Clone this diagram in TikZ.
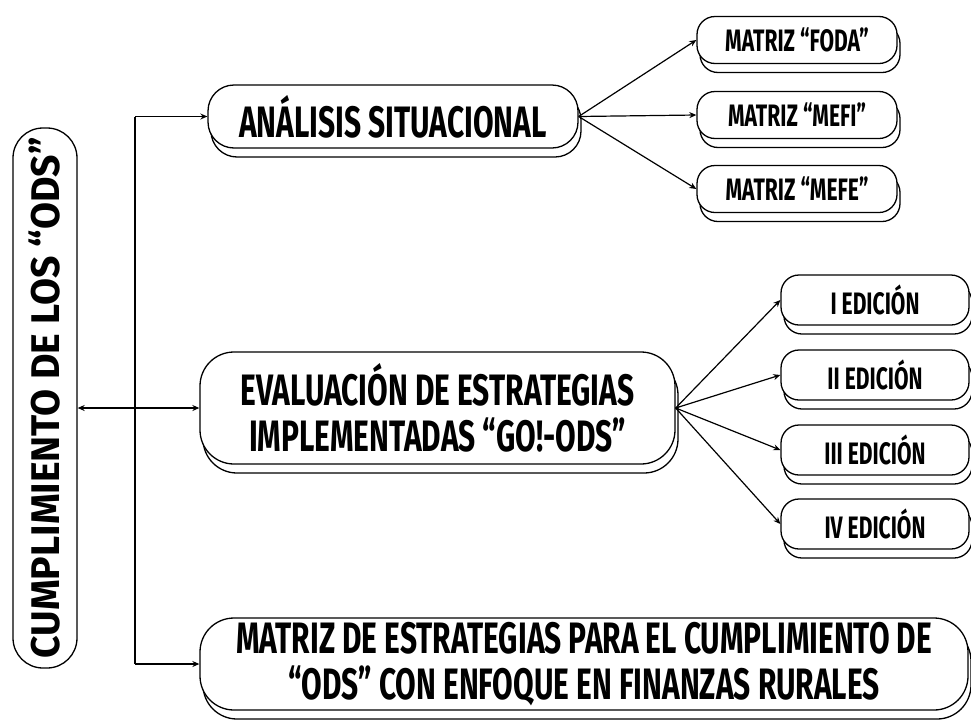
\documentclass[tikz,border=0pt]{standalone}
\usepackage{fontspec}
\setmainfont{Fira Sans}[FakeStretch=0.68]
\newfontfamily\widefont{Fira Sans}[FakeStretch=0.98]
\usetikzlibrary{arrows.meta,shadows}
\begin{document}
\begin{tikzpicture}[x=1pt,y=-1pt,
  box/.style={draw=black, line width=1.3pt, fill=white, align=center, inner sep=0pt,
    font=\bfseries,
    copy shadow={shadow xshift=3pt, shadow yshift=-9pt, draw=black, fill=white, line width=1.3pt}},
  bigbox/.style={box, rounded corners=30pt, font=\fontsize{44}{46}\bfseries\selectfont},
  smallbox/.style={box, rounded corners=18pt, minimum height=47pt, font=\fontsize{31}{34}\bfseries\selectfont},
  arr/.style={line width=1.2pt, -{Stealth[length=7pt,width=6pt]}},
  darr/.style={line width=1.2pt, {Stealth[length=7pt,width=6pt]}-{Stealth[length=7pt,width=6pt]}},
  ln/.style={line width=1.2pt}
]
\useasboundingbox (0,0) rectangle (971,726);
% left box
\node[draw=black, line width=1.3pt, rounded corners=30pt, minimum width=64pt, minimum height=540pt, inner sep=0pt] (ods) at (45,398) {};
\node[rotate=90, font=\widefont\fontsize{40}{42}\bfseries\selectfont] (odst) at (ods.center) {CUMPLIMIENTO DE LOS “ODS”};
% main boxes
\node[bigbox, rounded corners=26pt, minimum width=370pt, minimum height=63pt] (ana) at (393,116.5) {ANÁLISIS SITUACIONAL};
\node[bigbox, rounded corners=34pt, minimum width=475pt, minimum height=112pt] (eva) at (437.5,408) {EVALUACIÓN DE ESTRATEGIAS\\IMPLEMENTADAS “GO!-ODS”};
\node[bigbox, rounded corners=34pt, minimum width=768pt, minimum height=92pt] (mat) at (584,664) {MATRIZ DE ESTRATEGIAS PARA EL CUMPLIMIENTO DE\\“ODS” CON ENFOQUE EN FINANZAS RURALES};
% matrices
\node[smallbox, minimum width=200pt] (foda) at (797,40) {MATRIZ “FODA”};
\node[smallbox, minimum width=200pt] (mefi) at (797,115) {MATRIZ “MEFI”};
\node[smallbox, minimum width=200pt] (mefe) at (797,189) {MATRIZ “MEFE”};
% ediciones
\node[smallbox, minimum width=188pt, minimum height=50pt] (e1) at (875,300) {I EDICIÓN};
\node[smallbox, minimum width=188pt, minimum height=50pt] (e2) at (875,375) {II EDICIÓN};
\node[smallbox, minimum width=188pt, minimum height=50pt] (e3) at (875,450) {III EDICIÓN};
\node[smallbox, minimum width=188pt, minimum height=50pt] (e4) at (875,524) {IV EDICIÓN};
% connectors
\coordinate (top) at (135,116.5);
\coordinate (bot) at (135,664);
\draw[ln] (top) -- (bot);
\draw[arr] (top) -- (ana.west);
\draw[arr] (bot) -- (mat.west);
\draw[darr] (ods.east |- eva.west) -- (eva.west);
\draw[arr] (ana.east) -- (foda.west);
\draw[arr] (ana.east) -- (mefi.west);
\draw[arr] (ana.east) -- (mefe.west);
\draw[arr] (eva.east) -- (e1.west);
\draw[arr] (eva.east) -- (e2.west);
\draw[arr] (eva.east) -- (e3.west);
\draw[arr] (eva.east) -- (e4.west);
\end{tikzpicture}
\end{document}
